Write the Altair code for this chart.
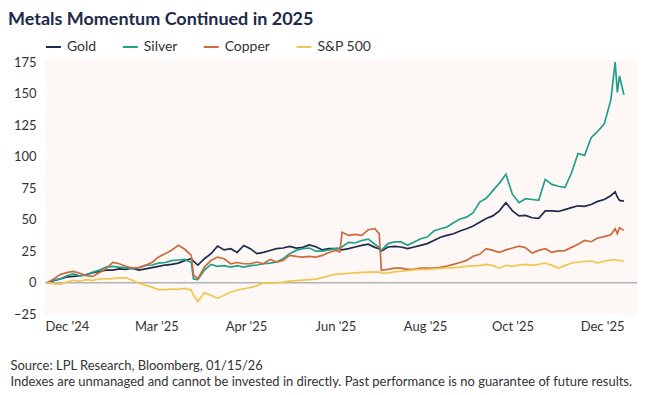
import json
import altair as alt
import pandas as pd

# Trading-day index (x) shared by all series
DAYS = sorted(list(range(0, 259, 3)) + [67, 134, 152, 260, 261, 262, 264])

GOLD = [0, 1.5, 3, 4.5, 5, 5.5, 6.5, 8, 9, 10, 10, 11, 10.5, 11.5, 10, 11, 12, 13, 14, 14.5, 15.5, 17.5,
        19, 17, 14, 19, 23, 29, 26, 27, 24, 29.5, 27, 23, 24, 25.5, 27, 27.5, 28.8, 27.5, 28, 30, 28.5, 26,
        27, 27, 27, 26, 27, 28.3, 29.6, 30.5, 28, 27, 25, 28.3, 28.8, 28.3, 27, 28.3, 29.6, 31, 33.5, 36,
        37.5, 38.8, 41, 42.8, 45, 48, 51, 53, 57, 63.5, 57, 53, 53.4, 51.5, 51, 57, 57, 56.5, 58, 59.5, 61,
        60.5, 62, 64.5, 66, 69, 72, 68, 65.3, 64.7]

SILVER = [0, 2, 3, 5.5, 7, 5.5, 6, 8.4, 10, 12.4, 13, 12.4, 12, 11, 12, 13.7, 14, 15.5, 16, 17.5, 18, 18.5,
          16, 3, 2.4, 10, 14.5, 13, 13.5, 12.4, 13.5, 12.4, 13.5, 14, 15, 15.5, 16.4, 19, 23, 25.6, 27, 27.5,
          25, 25, 26, 27, 27.5, 28.5, 32, 31.5, 33.5, 34.5, 30.5, 28, 25.6, 31, 32.3, 32.3, 29.6, 32.3, 34.9,
          36.2, 41, 42.8, 44.2, 47.5, 50.5, 52, 55.5, 64, 67, 73, 79, 86, 70, 63.5, 66.6, 66, 65.3, 82, 78,
          76.5, 75.5, 87, 102.5, 101, 115, 120, 126, 144.7, 175, 151, 164, 149]

COPPER = [0, 3, 6.5, 8, 9, 7.5, 5.5, 5, 8, 11, 16, 15, 13, 11.5, 12, 13.8, 16, 20.4, 23, 25.7, 29.6, 26.5,
          21.7, 6, 3.2, 12.4, 17.7, 20.3, 19, 15, 16, 15, 15, 16.4, 15, 18.5, 16.4, 17.7, 21.7, 20.9, 20.3,
          20.9, 20.3, 21.7, 24, 25.6, 24.5, 40, 37.5, 38.3, 37.5, 42, 42.8, 38.8, 9.8, 10.5, 11.5, 11.5, 10.5,
          10.8, 11.5, 11.5, 11.5, 12.2, 13.2, 14.5, 16, 17.7, 21, 22.5, 27, 25.6, 24, 26, 27.5, 29, 27.7, 23.5,
          25.6, 27, 24, 25.2, 25.5, 28, 30.5, 33.5, 32.5, 35.5, 36.5, 38, 42.8, 38.8, 43.6, 41.5]

SP500 = [0, -0.8, -1.3, 0.5, 1.9, 1.3, 2.4, 1.9, 2.9, 3, 3.2, 3.8, 4, 2, -0.5, -2, -3.5, -5.5, -5.5, -5, -5.2,
         -4.5, -6, -10, -15, -8, -10, -12.5, -10, -7.4, -6, -4.8, -3.8, -2.5, 0, -0.5, 0, 0.5, 1.3, 1.6, 2, 2.4,
         2.8, 4, 5.5, 6.6, 7, 7, 7.5, 7.8, 8.2, 8.4, 8.6, 8.4, 7.5, 7.8, 8.5, 9.2, 9.6, 10.2, 10.5, 10.6, 11,
         11.3, 11.8, 12, 12.3, 12.9, 13.3, 13.7, 14.5, 13.5, 11.5, 13.7, 13, 14, 14.5, 13.7, 14.5, 15.6, 13.7,
         11.5, 13.5, 15.6, 16.2, 16.8, 17.2, 15.8, 17, 18, 18.2, 17.8, 17.5, 17.2]

SERIES = ["Gold", "Silver", "Copper", "S&P 500"]
COLORS = ["#1d2b4f", "#23a08a", "#cc6a3c", "#f1c64c"]

TICK_DAYS = [9, 50, 91, 132, 173, 213, 254]
TICK_LABELS = ["Dec '24", "Mar '25", "Apr '25", "Jun '25", "Aug '25", "Oct '25", "Dec '25"]
Y_TICKS = [-25, 0, 25, 50, 75, 100, 125, 150, 175]

TITLE = "Metals Momentum Continued in 2025"
NOTES = ["Source: LPL Research, Bloomberg, 01/15/26",
         "Indexes are unmanaged and cannot be invested in directly. Past performance is no guarantee of future results."]

for s in (GOLD, SILVER, COPPER, SP500):
    assert len(s) == len(DAYS), (len(s), len(DAYS))

rows = []
for name, vals in zip(SERIES, (GOLD, SILVER, COPPER, SP500)):
    for d, v in zip(DAYS, vals):
        rows.append({"day": d, "value": v, "series": name})
df = pd.DataFrame(rows)

label_expr = " : ".join(f"datum.value == {d} ? {json.dumps(l)}" for d, l in zip(TICK_DAYS, TICK_LABELS)) + ' : ""'

FONT = "Lato"

x_enc = alt.X("day:Q", scale=alt.Scale(domain=[-1, 270], nice=False, zero=False),
              axis=alt.Axis(values=TICK_DAYS, labelExpr=label_expr, title=NOTES,
                            titleAnchor="start", titleAlign="left", titleX=-35, titleY=45,
                            titleBaseline="top", titleFontSize=13, titleFontWeight="normal",
                            titleColor="#333333", titleLineHeight=16, titleFont=FONT,
                            labelPadding=6, labelOverlap=False))
y_axis = alt.Axis(values=Y_TICKS, title=None, labelPadding=9, labelOverlap=False,
                  labelBound=False, labelSeparation=0, labelFontSize=13)
y_scale = alt.Scale(domain=[-25.5, 176.5], nice=False, zero=False)

lines = alt.Chart(df).mark_line(strokeWidth=1.7, interpolate="linear").encode(
    x=x_enc,
    y=alt.Y("value:Q", scale=y_scale, axis=y_axis),
    color=alt.Color("series:N", scale=alt.Scale(domain=SERIES, range=COLORS),
                    legend=alt.Legend(title=None, orient="none", legendX=0, legendY=-22,
                                      direction="horizontal", symbolType="stroke", symbolSize=225,
                                      symbolStrokeWidth=2, labelFontSize=14, labelFont=FONT,
                                      labelColor="#333333", columnPadding=22, labelOffset=5)),
    order=alt.Order("day:Q"),
)

zero = alt.Chart(pd.DataFrame({"value": [0]})).mark_rule(color="#b3b3b3", strokeWidth=1.5).encode(
    y=alt.Y("value:Q", scale=y_scale, axis=y_axis)
)

chart = alt.layer(zero, lines).properties(
    width=593, height=255,
    autosize=alt.AutoSizeParams(type="none"),
    padding={"left": 37, "top": 52, "right": 5, "bottom": 76},
    title=alt.TitleParams(TITLE, anchor="start", fontSize=18, font=FONT, fontWeight="bold",
                          color="#1e2a4a", dx=-2, offset=9),
).configure_view(fill="#fdf7f5", stroke=None).configure_axis(
    grid=False, domain=False, ticks=False, labelFont=FONT, labelFontSize=13, labelColor="#333333",
    labelOverlap=False
).configure_axisY(labelOverlap=False)

chart.save("out.html", embed_options={"renderer": "svg", "actions": False})
